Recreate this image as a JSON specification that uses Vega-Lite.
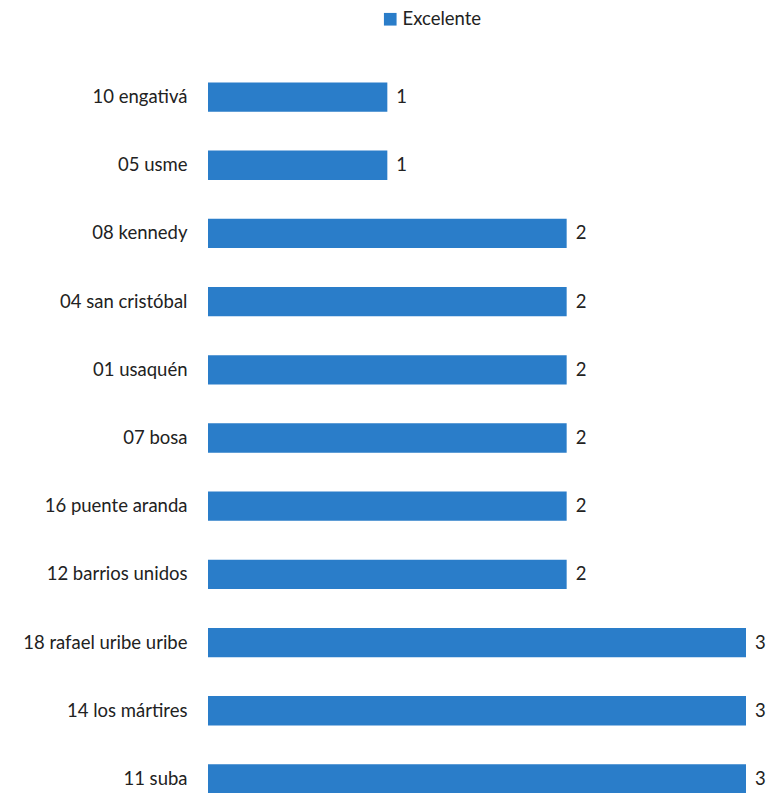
{
  "$schema": "https://vega.github.io/schema/vega-lite/v6.json",
  "autosize": "none",
  "width": 538,
  "height": 750,
  "padding": {"left": 208, "top": 63, "right": 24, "bottom": 0},
  "background": "white",
  "config": {"view": {"stroke": null}, "font": "Lato"},
  "data": {"values": [
    {"localidad": "10  engativá", "valor": 1, "serie": "Excelente"},
    {"localidad": "05  usme", "valor": 1, "serie": "Excelente"},
    {"localidad": "08  kennedy", "valor": 2, "serie": "Excelente"},
    {"localidad": "04  san cristóbal", "valor": 2, "serie": "Excelente"},
    {"localidad": "01  usaquén", "valor": 2, "serie": "Excelente"},
    {"localidad": "07  bosa", "valor": 2, "serie": "Excelente"},
    {"localidad": "16  puente aranda", "valor": 2, "serie": "Excelente"},
    {"localidad": "12  barrios unidos", "valor": 2, "serie": "Excelente"},
    {"localidad": "18  rafael uribe uribe", "valor": 3, "serie": "Excelente"},
    {"localidad": "14  los mártires", "valor": 3, "serie": "Excelente"},
    {"localidad": "11  suba", "valor": 3, "serie": "Excelente"}
  ]},
  "encoding": {
    "y": {"field": "localidad", "type": "nominal", "sort": null,
      "scale": {"paddingInner": 0.57, "paddingOuter": 0.285},
      "axis": {"title": null, "domain": false, "ticks": false, "labelPadding": 21,
        "labelFontSize": 18.5, "labelColor": "#222222", "labelFont": "Lato"}},
    "x": {"field": "valor", "type": "quantitative", "scale": {"domain": [0, 3]}, "axis": null}
  },
  "layer": [
    {"mark": {"type": "bar"},
     "encoding": {"color": {"field": "serie", "type": "nominal",
        "scale": {"range": ["#2a7dc9"]},
        "legend": {"title": null, "orient": "none", "legendX": 173, "legendY": -53,
          "symbolType": "square", "symbolSize": 160, "labelFontSize": 18.5,
          "labelColor": "#222222", "labelFont": "Lato", "symbolStrokeWidth": 0, "labelOffset": 3}}}},
    {"mark": {"type": "text", "align": "left", "baseline": "middle", "dx": 9, "fontSize": 18.5, "color": "#222222"},
     "encoding": {"text": {"field": "valor", "type": "quantitative"}}}
  ]
}
